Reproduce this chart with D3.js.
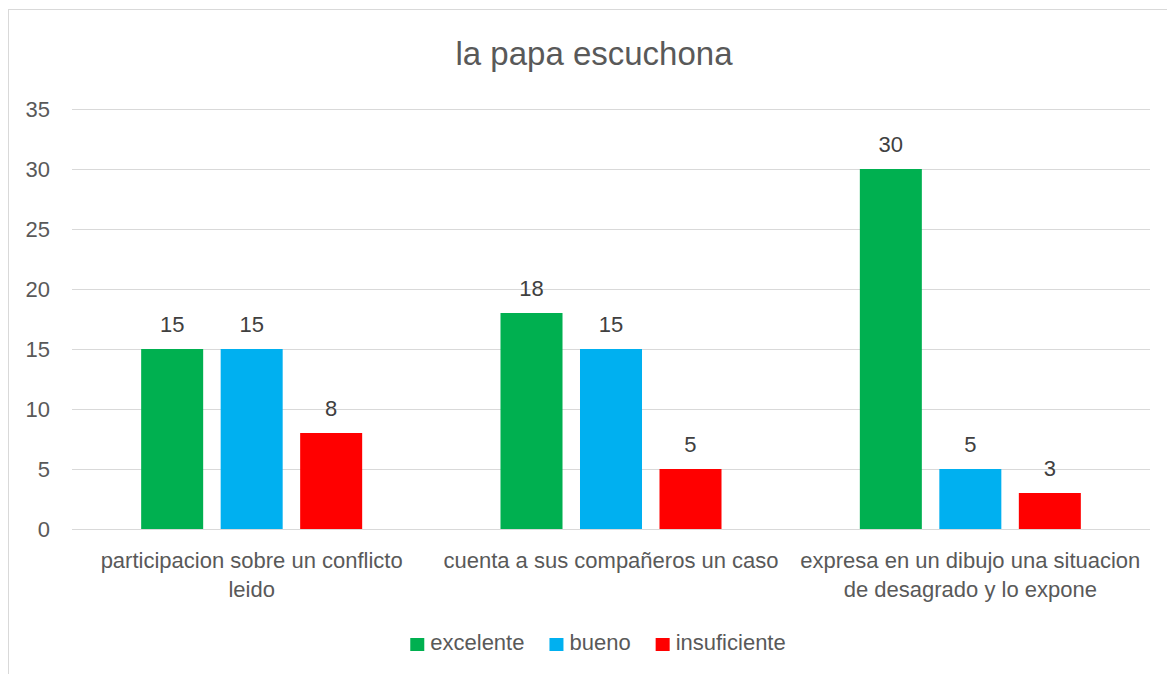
<!DOCTYPE html>
<html>
<head>
<meta charset="utf-8">
<script src="https://cdn.jsdelivr.net/npm/d3@7"></script>
<style>
  body { margin: 0; background: #fff; }
  svg text { font-family: "Liberation Sans", Arial, sans-serif; }
</style>
</head>
<body>
<div id="chart"></div>
<script>
const categories = [
  'participacion sobre un conflicto leido',
  'cuenta a sus compañeros un caso',
  'expresa en un dibujo una situacion de desagrado y lo expone'
];
const seriesNames = ['excelente', 'bueno', 'insuficiente'];
const excelente = [15, 18, 30];
const bueno = [15, 15, 5];
const insuficiente = [8, 5, 3];
const yTicks = [0, 5, 10, 15, 20, 25, 30, 35];
const colors = ['#00B050', '#00B0F0', '#FF0000'];

const width = 1167;
const height = 674;
const margin = {top: 109, right: 17, bottom: 145, left: 72};
const fs = '22px';

const series = [excelente, bueno, insuficiente];
const data = categories.map((c, i) => ({
  cat: c,
  values: seriesNames.map((s, j) => ({key: s, value: series[j][i], color: colors[j]}))
}));

const svg = d3.select('#chart').append('svg')
  .attr('width', width)
  .attr('height', height);

// chart border (right and bottom run off the page)
svg.append('rect')
  .attr('x', 8.5).attr('y', 9.5)
  .attr('width', 1200).attr('height', 700)
  .attr('fill', 'none')
  .attr('stroke', '#d9d9d9');

svg.append('text')
  .attr('x', 594)
  .attr('y', 65)
  .attr('text-anchor', 'middle')
  .attr('fill', '#595959')
  .style('font-size', '33px')
  .text('la papa escuchona');

const plotW = width - margin.left - margin.right;
const plotH = height - margin.top - margin.bottom;

const g = svg.append('g')
  .attr('transform', `translate(${margin.left},${margin.top})`);

const y = d3.scaleLinear().domain([0, 35]).range([plotH, 0]);
const x0 = d3.scaleBand().domain(categories).range([0, plotW]).padding(0);
const x1 = d3.scaleBand().domain(seriesNames).range([0, x0.bandwidth()])
  .paddingInner(0.22).paddingOuter(0.87);

// gridlines + y labels
const yAxis = g.append('g')
  .call(d3.axisLeft(y).tickValues(yTicks).tickSize(-plotW).tickPadding(22));
yAxis.select('.domain').remove();
yAxis.selectAll('.tick line').attr('stroke', '#d9d9d9');
yAxis.selectAll('.tick text')
  .attr('fill', '#595959')
  .style('font-size', fs);

const groups = g.selectAll('.grp')
  .data(data)
  .enter().append('g')
  .attr('class', 'grp')
  .attr('transform', d => `translate(${x0(d.cat)},0)`);

groups.selectAll('rect')
  .data(d => d.values)
  .enter().append('rect')
  .attr('x', d => x1(d.key))
  .attr('y', d => y(d.value))
  .attr('width', x1.bandwidth())
  .attr('height', d => plotH - y(d.value))
  .attr('fill', d => d.color);

groups.selectAll('.val')
  .data(d => d.values)
  .enter().append('text')
  .attr('class', 'val')
  .attr('x', d => x1(d.key) + x1.bandwidth() / 2)
  .attr('y', d => y(d.value) - 17)
  .attr('text-anchor', 'middle')
  .attr('fill', '#404040')
  .style('font-size', fs)
  .text(d => d.value);

// category labels, wrapped
const xAxis = g.append('g')
  .attr('transform', `translate(0,${plotH})`)
  .call(d3.axisBottom(x0).tickSize(0).tickPadding(0));
xAxis.select('.domain').remove();
xAxis.selectAll('.tick text')
  .attr('fill', '#595959')
  .style('font-size', fs)
  .call(wrap, 347);

function wrap(texts, maxW) {
  texts.each(function() {
    const text = d3.select(this);
    const words = text.text().split(/\s+/);
    text.text(null);
    let line = [];
    let lineNo = 0;
    let tspan = text.append('tspan').attr('x', 0).attr('y', 39);
    words.forEach(w => {
      line.push(w);
      tspan.text(line.join(' '));
      if (tspan.node().getComputedTextLength() > maxW && line.length > 1) {
        line.pop();
        tspan.text(line.join(' '));
        line = [w];
        lineNo++;
        tspan = text.append('tspan').attr('x', 0).attr('y', 39 + lineNo * 28.5).text(w);
      }
    });
    text.attr('dy', null);
  });
}

// legend
const legend = svg.append('g');
let lx = 0;
seriesNames.forEach((s, i) => {
  const item = legend.append('g').attr('transform', `translate(${lx},0)`);
  item.append('rect')
    .attr('x', 0).attr('y', -12)
    .attr('width', 14).attr('height', 13)
    .attr('fill', colors[i]);
  const t = item.append('text')
    .attr('x', 20).attr('y', 0)
    .attr('fill', '#595959')
    .style('font-size', fs)
    .text(s);
  lx += 20 + t.node().getComputedTextLength() + 25;
});
const legW = lx - 25;
legend.attr('transform', `translate(${598 - legW / 2},650)`);
</script>
</body>
</html>
